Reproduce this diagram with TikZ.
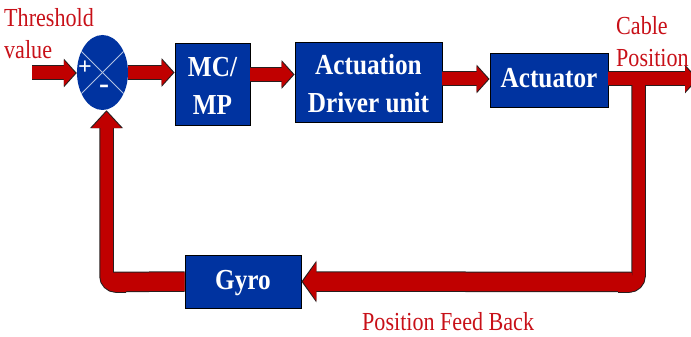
\documentclass[tikz,border=0pt]{standalone}
\usepackage{fontspec}
\setmainfont{Liberation Serif}
\usetikzlibrary{arrows.meta,shapes.geometric,calc}
\definecolor{boxblue}{RGB}{0,51,160}
\definecolor{pipered}{RGB}{192,0,0}
\definecolor{labelred}{RGB}{200,16,24}
\definecolor{pipedark}{RGB}{40,30,30}
\newcommand{\bxt}[1]{\scalebox{0.87}[1]{\begin{tabular}{@{}c@{}}#1\end{tabular}}}
\newcommand{\bxtt}[1]{\raisebox{-4pt}[\height][\depth]{\bxt{#1}}}
\newcommand{\rdt}[1]{\scalebox{0.85}[1]{\begin{tabular}{@{}l@{}}#1\end{tabular}}}
\begin{document}
\begin{tikzpicture}[x=1pt,y=-1pt,
  blk/.style={draw=black,line width=0.8pt,fill=boxblue,text=white,inner sep=0pt,
    font=\bfseries\fontsize{29}{38}\selectfont,align=center},
  lbl/.style={text=labelred,inner sep=0pt,font=\fontsize{26}{32}\selectfont,align=left},
  % forward arrows
  fwdo/.style={draw=pipedark,line width=15pt,-{Triangle[length=13pt,width=28pt]}},
  fwdi/.style={draw=pipered,line width=13pt,shorten >=1.5pt,-{Triangle[length=11.5pt,width=25pt]}},
  % thick bottom band
  bando/.style={draw=pipedark,line width=20.5pt},
  bandi/.style={draw=pipered,line width=18.5pt},
  bandao/.style={draw=pipedark,line width=20.5pt,-{Triangle[length=15pt,width=41pt]}},
  bandai/.style={draw=pipered,line width=18.5pt,shorten >=1.5pt,-{Triangle[length=13.5pt,width=38pt]}},
  % vertical feedback legs
  vero/.style={draw=pipedark,line width=14.5pt,rounded corners=9.5pt},
  veri/.style={draw=pipered,line width=12.5pt,rounded corners=9.5pt},
  upo/.style={vero,-{Triangle[length=18pt,width=32pt]}},
  upi/.style={veri,shorten >=1.5pt,-{Triangle[length=16.5pt,width=29pt]}},
  crossline/.style={draw=white!70!boxblue,line width=0.8pt}]
\useasboundingbox (0,0) rectangle (691,337);

% blocks
\node[ellipse,fill=boxblue,minimum width=51pt,minimum height=75pt,inner sep=0pt] (sum) at (102.5,72.5) {};
\node[blk,minimum width=75pt,minimum height=82pt] (mc) at (212.5,84) {\bxtt{MC/\\MP}};
\node[blk,minimum width=147pt,minimum height=80pt] (act) at (368.5,82) {\bxtt{Actuation\\Driver unit}};
\node[blk,minimum width=118pt,minimum height=54pt] (actr) at (549,80) {\bxt{Actuator}};
\node[blk,minimum width=116pt,minimum height=53pt] (gyro) at (243,281.5) {\bxt{Gyro}};

\coordinate (tin) at (32,73);
\coordinate (br) at (638.5,79);
\coordinate (out) at (698,79);
\coordinate (rc) at (638.5,285.5);
\coordinate (rcend) at (618,285.5);
\coordinate (fbR) at (632,282);
\coordinate (fbL) at (113,282);
\coordinate (lcstart) at (126,285.5);
\coordinate (lc) at (106.5,285.5);
\coordinate (upend) at ([xshift=4pt]sum.south);

% outline pass
\draw[fwdo] (tin) -- (sum.west |- tin);
\draw[fwdo] (sum.east) -- (sum.east -| mc.west);
\draw[fwdo] ([yshift=9.5pt]mc.east) -- ([yshift=9.5pt]mc.east -| act.west);
\draw[fwdo] ([yshift=3pt]act.east) -- ([yshift=3pt]act.east -| actr.west);
\draw[fwdo] (actr.east |- br) -- (out);
\draw[vero] (br) -- (rc) -- (rcend);
\draw[bandao] (fbR) -- (gyro.east);
\draw[bando] (gyro.west) -- (fbL);
\draw[upo] (lcstart) -- (lc) -- (upend);

% fill pass
\draw[fwdi] (tin) -- (sum.west |- tin);
\draw[fwdi] (sum.east) -- (sum.east -| mc.west);
\draw[fwdi] ([yshift=9.5pt]mc.east) -- ([yshift=9.5pt]mc.east -| act.west);
\draw[fwdi] ([yshift=3pt]act.east) -- ([yshift=3pt]act.east -| actr.west);
\draw[fwdi] (actr.east |- br) -- (out);
\draw[veri] (br) -- (rc) -- (rcend);
\draw[bandai] (fbR) -- (gyro.east);
\draw[bandi] (gyro.west) -- (fbL);
\draw[upi] (lcstart) -- (lc) -- (upend);

% summing junction details
\draw[crossline] (sum.45) -- (sum.225);
\draw[crossline] (sum.135) -- (sum.315);
\node[text=white,font=\bfseries\fontsize{24}{24}\selectfont,inner sep=0pt] (plus) at (85,68) {+};
\node[text=white,font=\bfseries\fontsize{30}{30}\selectfont,inner sep=0pt] (minus) at (104,89) {-};

% labels
\node[lbl,anchor=north west] (thr) at (4,4) {\rdt{Threshold\\value}};
\node[lbl,anchor=north west] (cab) at (616,12) {\rdt{Cable\\Position}};
\node[lbl,anchor=north west] (pfb) at (362,308) {\rdt{Position Feed Back}};
\end{tikzpicture}
\end{document}
